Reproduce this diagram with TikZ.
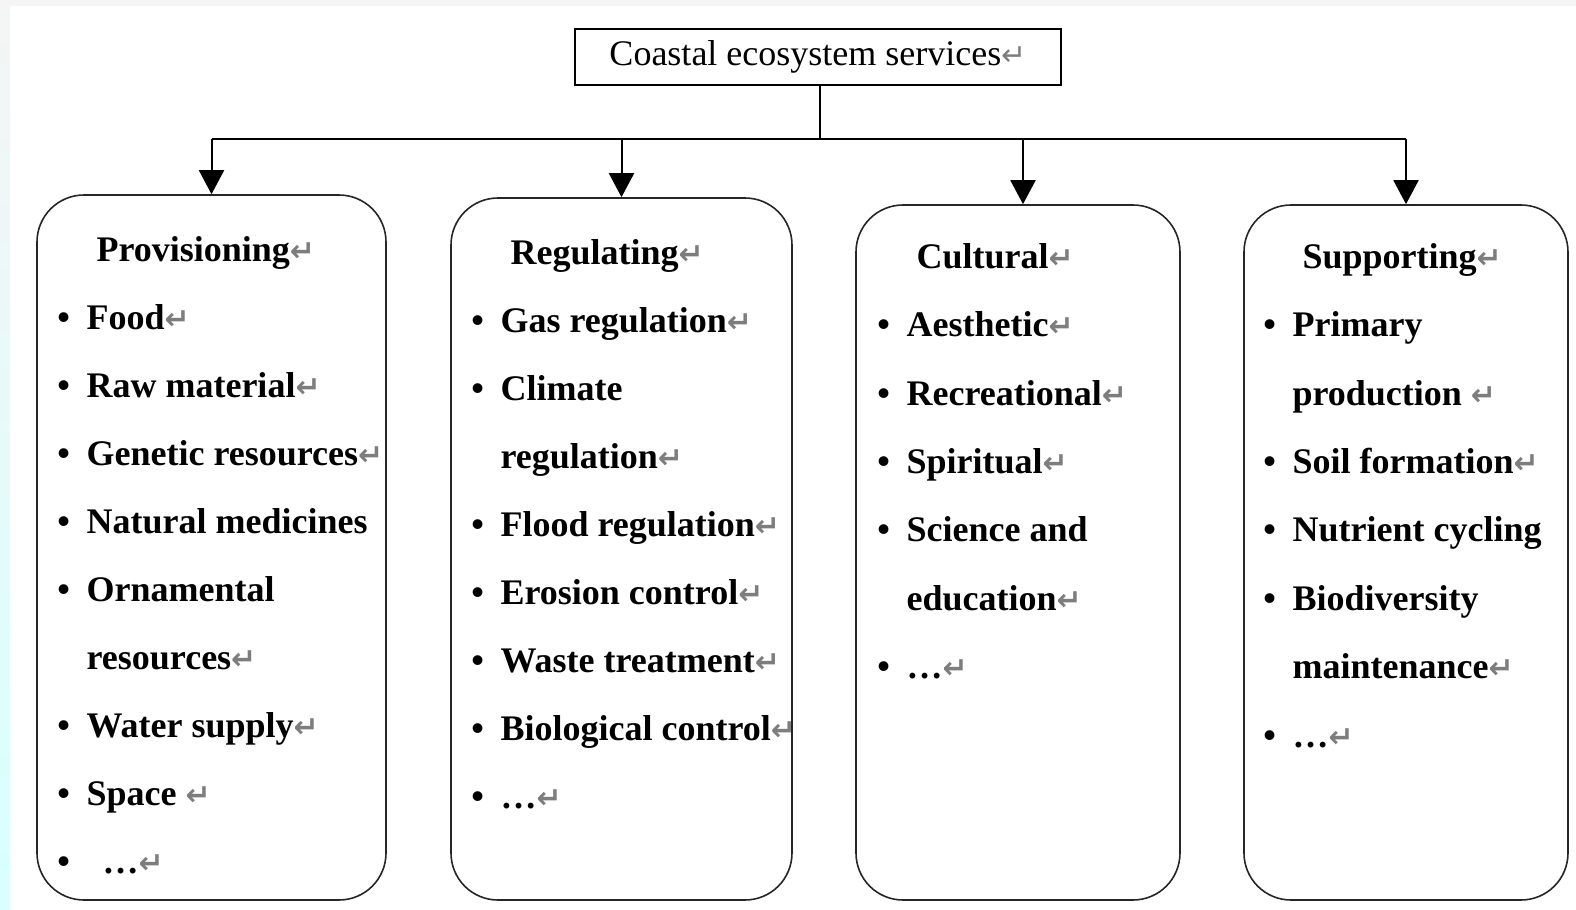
\documentclass[tikz,border=0pt]{standalone}
\usepackage{fontspec}
\setmainfont{Liberation Serif}
\newfontfamily\markfont{DejaVu Sans}
\usepackage{tikz}
\usepackage{xcolor}
\usetikzlibrary{arrows.meta}
\definecolor{markgray}{RGB}{125,125,125}
\newcommand{\retmark}{{\markfont\fontsize{15}{15}\selectfont\color{markgray}↵}}
\newcommand{\itm}{\makebox[23pt][c]{•}}
\newcommand{\cont}{\hspace*{23pt}}
\newcommand{\head}{\hspace*{28pt}}
\tikzset{
    title-box/.style = {draw, line width=0.75pt, rectangle, minimum width=243pt, minimum height=28pt, inner sep=0pt, font=\fontsize{18}{22}\selectfont},
    service-box/.style = {draw=black!85, line width=0.8pt, rectangle, rounded corners=23.5pt, inner sep=0pt},
    service-list/.style = {anchor=base west, inner sep=0pt, font=\bfseries\fontsize{18}{#1}\selectfont},
    link/.style = {line width=1pt},
    down-arrow/.style = {line width=1pt, -{Triangle[length=12pt,width=12.5pt]}},
}
\begin{document}
\begin{tikzpicture}[x=0.5pt, y=-0.5pt]
\useasboundingbox (0,0) rectangle (1576,910);
\fill[gray!8] (0,0) rectangle (1576,6);
\shade[top color=gray!8, bottom color=cyan!15] (0,0) rectangle (10,910);

\node[title-box] (title) at (818,57) {Coastal ecosystem services\retmark};

\node[service-box, minimum width=174.5pt, minimum height=352.5pt] (prov) at (211.5,547.5) {};
\node[service-box, minimum width=170.5pt, minimum height=351pt] (reg) at (621.5,549) {};
\node[service-box, minimum width=162pt, minimum height=347.5pt] (cult) at (1018,552.5) {};
\node[service-box, minimum width=162pt, minimum height=347.5pt] (supp) at (1406,552.5) {};

% connectors
\coordinate (bus) at (820,139);
\coordinate (cult-in) at ([xshift=2.5pt]cult.north);
\draw[link] (title.south -| bus) -- (bus);
\draw[link] (prov.north |- bus) -- (supp.north |- bus);
\draw[down-arrow] (prov.north |- bus) -- (prov.north);
\draw[down-arrow] (reg.north |- bus) -- (reg.north);
\draw[down-arrow] (cult-in |- bus) -- (cult-in);
\draw[down-arrow] (supp.north |- bus) -- (supp.north);

\node[service-list=34pt] at ([shift={(2pt,-33.5pt)}]prov.north west) {\begin{minipage}[t]{200pt}\raggedright
\head Provisioning\retmark\\
\itm Food\retmark\\
\itm Raw material\retmark\\
\itm Genetic resources\retmark\\
\itm Natural medicines\\
\itm Ornamental\\
\cont resources\retmark\\
\itm Water supply\retmark\\
\itm Space \retmark\\
\itm\hspace{8pt}…\retmark
\end{minipage}};

\node[service-list=34pt] at ([shift={(2pt,-33.5pt)}]reg.north west) {\begin{minipage}[t]{200pt}\raggedright
\head Regulating\retmark\\
\itm Gas regulation\retmark\\
\itm Climate\\
\cont regulation\retmark\\
\itm Flood regulation\retmark\\
\itm Erosion control\retmark\\
\itm Waste treatment\retmark\\
\itm Biological control\retmark\\
\itm …\retmark
\end{minipage}};

\node[service-list=34.2pt] at ([shift={(2.5pt,-32pt)}]cult.north west) {\begin{minipage}[t]{200pt}\raggedright
\head Cultural\retmark\\
\itm Aesthetic\retmark\\
\itm Recreational\retmark\\
\itm Spiritual\retmark\\
\itm Science and\\
\cont education\retmark\\
\itm …\retmark
\end{minipage}};

\node[service-list=34.2pt] at ([shift={(1.5pt,-32pt)}]supp.north west) {\begin{minipage}[t]{200pt}\raggedright
\head Supporting\retmark\\
\itm Primary\\
\cont production \retmark\\
\itm Soil formation\retmark\\
\itm Nutrient cycling\\
\itm Biodiversity\\
\cont maintenance\retmark\\
\itm …\retmark
\end{minipage}};
\end{tikzpicture}
\end{document}
